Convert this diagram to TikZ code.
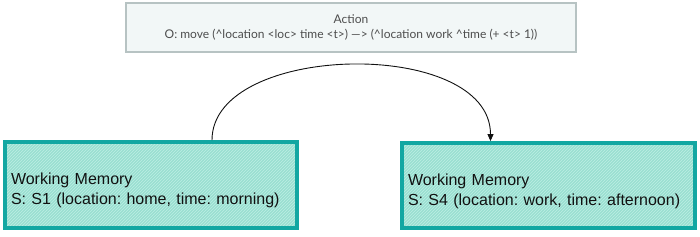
\documentclass[tikz,border=0pt]{standalone}
\usepackage{fontspec}
\setmainfont{Liberation Sans}
\newfontfamily\actionfont{Lato}
\usetikzlibrary{arrows.meta, patterns}
\definecolor{ink}{HTML}{111111}
\definecolor{muted}{HTML}{4D4D4D}
\definecolor{rule}{HTML}{B7C3C3}
\definecolor{wash}{HTML}{F2F7F7}
\definecolor{teal}{HTML}{12A7A2}
\definecolor{tealsoft}{HTML}{9ADFD1}
\definecolor{tealhatch}{HTML}{BDEEE4}
\frenchspacing
\tikzset{
  >={Triangle[length=7pt, width=6pt]},
  %
  actionbox/.style={
    draw=rule, line width=1.4pt, fill=wash, align=center, text=muted,
    font=\actionfont\fontsize{12}{15.5}\selectfont, inner sep=0pt,
  },
  memory/.style={
    draw=teal, line width=3.8pt, line cap=round,
    preaction={fill=tealsoft},
    pattern=north east lines, pattern color=tealhatch,
    inner xsep=6pt, inner ysep=0pt, align=left, text=ink,
    font=\fontsize{16}{20}\selectfont,
  },
  flow/.style={draw=ink, line width=0.9pt, ->},
}
\begin{document}
\begin{tikzpicture}[x=1pt, y=-1pt]
  \useasboundingbox (0,0) rectangle (700,236);

  \node[actionbox, minimum width=450pt, minimum height=49pt] (act) at (351,27.5)
    {Action\\O: move (\^{}location <loc> time <t>) —> (\^{}location work \^{}time (+ <t> 1))};

  % the two memory states
  \node[memory, minimum width=292pt, minimum height=86pt, text width=280pt] (s1) at (151,185)
    {\rule{0pt}{23pt}Working Memory\\S: S1 (location: home, time: morning)};
  \node[memory, minimum width=293pt, minimum height=85pt, text width=281pt] (s4) at (548.5,185.5)
    {\rule{0pt}{23pt}Working Memory\\S: S4 (location: work, time: afternoon)};

  \draw[flow] ([xshift=61pt]s1.north) .. controls +(0,-98) and +(0,-104) .. ([xshift=-58pt]s4.north);

\end{tikzpicture}
\end{document}
